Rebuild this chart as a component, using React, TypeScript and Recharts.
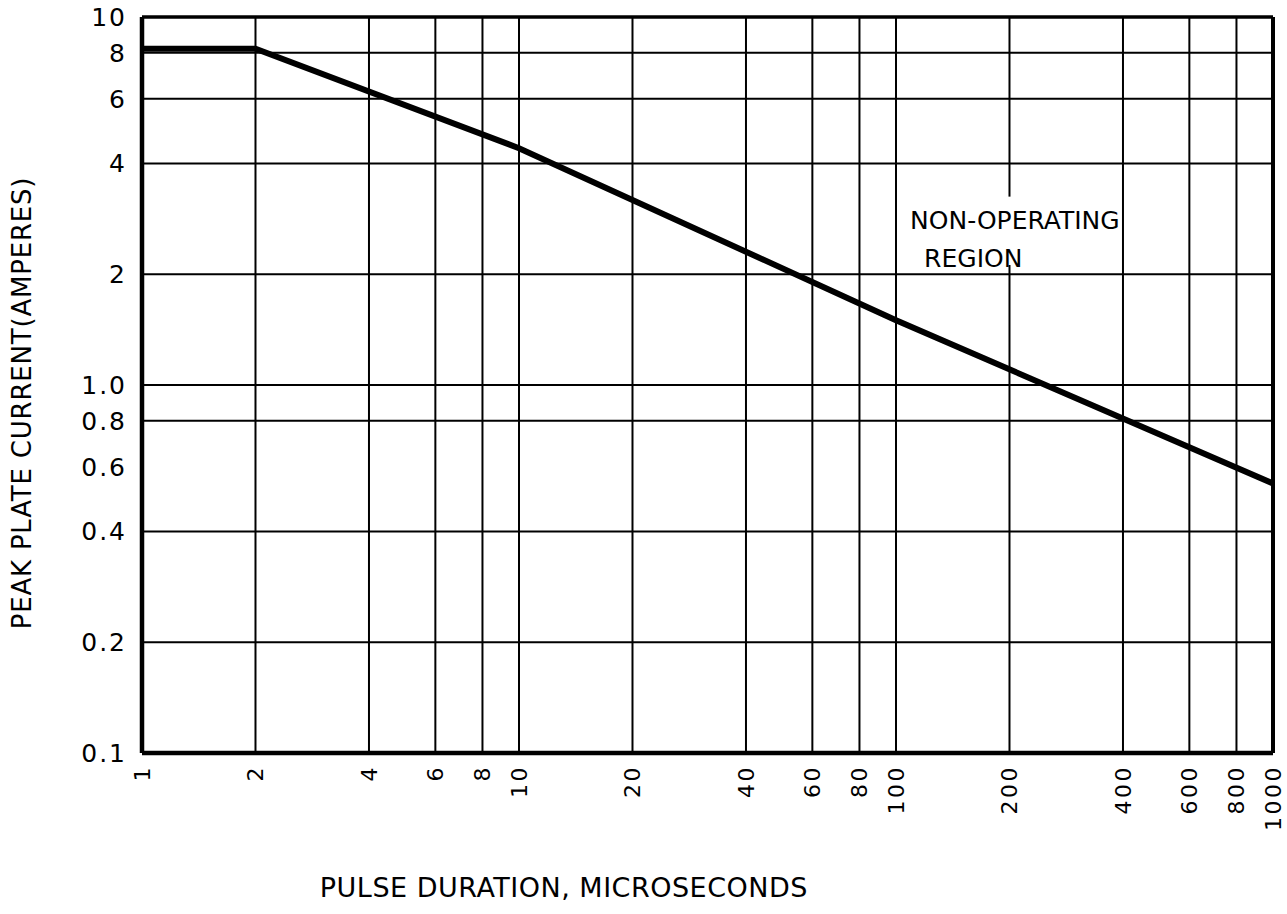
import React from "react";
import {
  LineChart,
  Line,
  XAxis,
  YAxis,
  ReferenceLine,
  ReferenceArea,
} from "recharts";

// Pulse duration (microseconds) vs peak plate current (amperes)
const durations = [1, 2, 10, 100, 1000];
const currents = [8.2, 8.2, 4.4, 1.5, 0.54];

const xTicks = [1, 2, 4, 6, 8, 10, 20, 40, 60, 80, 100, 200, 400, 600, 800, 1000];
const yTicks = [0.1, 0.2, 0.4, 0.6, 0.8, 1, 2, 4, 6, 8, 10];
const yTickLabels = ["0.1", "0.2", "0.4", "0.6", "0.8", "1.0", "2", "4", "6", "8", "10"];
const xGrid = [2, 4, 6, 8, 10, 20, 40, 60, 80, 100, 400, 600, 800];
const yGrid = [0.2, 0.4, 0.8, 1, 2, 4, 6, 8];
// the 200 line is broken where the note text sits
const brokenGridX = 200;
const noteGap = [2.12, 3.25];
const noteX = [109, 420];

const xTitle = "PULSE DURATION, MICROSECONDS";
const yTitle = "PEAK PLATE CURRENT(AMPERES)";
const noteLines = ["NON-OPERATING", "REGION"];

const data = durations.map((d, i) => ({ d, c: currents[i] }));

const FONT = "'DejaVu Sans', 'Liberation Sans', sans-serif";

const XTick = (props: any) => {
  const { x, y, payload } = props;
  return (
    <text
      x={x}
      y={y}
      transform={`rotate(-90, ${x}, ${y})`}
      textAnchor="end"
      dy="0.36em"
      fontFamily={FONT}
      fontSize={22}
      letterSpacing={2.5}
      fill="#000"
    >
      {String(payload.value)}
    </text>
  );
};

const YTick = (props: any) => {
  const { x, y, payload } = props;
  const idx = yTicks.indexOf(payload.value);
  return (
    <text
      x={x}
      y={y}
      textAnchor="end"
      dy="0.36em"
      fontFamily={FONT}
      fontSize={25}
      letterSpacing={2}
      fill="#000"
    >
      {idx >= 0 ? yTickLabels[idx] : String(payload.value)}
    </text>
  );
};

const XTitle = (props: any) => {
  const vb = props.viewBox || { x: 0, y: 0, width: 0, height: 0 };
  return (
    <text
      x={vb.x + vb.width * 0.373}
      y={vb.y + 144}
      textAnchor="middle"
      fontFamily={FONT}
      fontSize={27}
      letterSpacing={0.5}
      fill="#000"
    >
      {xTitle}
    </text>
  );
};

const YTitle = (props: any) => {
  const vb = props.viewBox || { x: 0, y: 0, width: 0, height: 0 };
  const cx = 22;
  const cy = vb.y + vb.height * 0.5245;
  return (
    <text
      x={cx}
      y={cy}
      transform={`rotate(-90, ${cx}, ${cy})`}
      textAnchor="middle"
      dy="0.36em"
      fontFamily={FONT}
      fontSize={26}
      letterSpacing={0.8}
      fill="#000"
    >
      {yTitle}
    </text>
  );
};

const NoteLabel = (props: any) => {
  const vb = props.viewBox || { x: 0, y: 0, width: 0, height: 0 };
  return (
    <g>
      <text x={vb.x} y={vb.y + 32} fontFamily={FONT} fontSize={25} fill="#000">
        {noteLines[0]}
      </text>
      <text x={vb.x + 14} y={vb.y + 70} fontFamily={FONT} fontSize={25} fill="#000">
        {noteLines[1]}
      </text>
    </g>
  );
};

export default function App() {
  return (
    <div style={{ position: "absolute", left: 0, top: 0, background: "#fff" }}>
      <LineChart
        width={1287}
        height={914}
        data={data}
        margin={{ top: 17, right: 14, left: 82, bottom: 61 }}
      >
        <XAxis
          dataKey="d"
          type="number"
          scale="log"
          domain={[1, 1000]}
          ticks={xTicks}
          interval={0}
          allowDataOverflow
          height={100}
          tick={<XTick />}
          tickLine={false}
          tickSize={0}
          tickMargin={12}
          axisLine={{ stroke: "#000", strokeWidth: 4.5 }}
          label={<XTitle />}
        />
        <YAxis
          dataKey="c"
          type="number"
          scale="log"
          domain={[0.1, 10]}
          ticks={yTicks}
          interval={0}
          allowDataOverflow
          width={60}
          tick={<YTick />}
          tickLine={false}
          tickSize={0}
          tickMargin={15}
          axisLine={{ stroke: "#000", strokeWidth: 4.5 }}
          label={<YTitle />}
        />
        {xGrid.map((v) => (
          <ReferenceLine key={`vx${v}`} x={v} stroke="#000" strokeWidth={2} />
        ))}
        <ReferenceLine
          segment={[
            { x: brokenGridX, y: 0.1 },
            { x: brokenGridX, y: noteGap[0] },
          ]}
          stroke="#000"
          strokeWidth={2}
        />
        <ReferenceLine
          segment={[
            { x: brokenGridX, y: noteGap[1] },
            { x: brokenGridX, y: 10 },
          ]}
          stroke="#000"
          strokeWidth={2}
        />
        {yGrid.map((v) => (
          <ReferenceLine key={`hy${v}`} y={v} stroke="#000" strokeWidth={2} />
        ))}
        <ReferenceLine y={10} stroke="#000" strokeWidth={3.5} />
        <ReferenceLine x={1000} stroke="#000" strokeWidth={4} />
        <ReferenceArea
          x1={noteX[0]}
          x2={noteX[1]}
          y1={noteGap[0]}
          y2={noteGap[1]}
          fill="#fff"
          fillOpacity={0}
          stroke="none"
          label={<NoteLabel />}
        />
        <Line
          type="linear"
          dataKey="c"
          stroke="#000"
          strokeWidth={6}
          dot={false}
          isAnimationActive={false}
        />
      </LineChart>
    </div>
  );
}
